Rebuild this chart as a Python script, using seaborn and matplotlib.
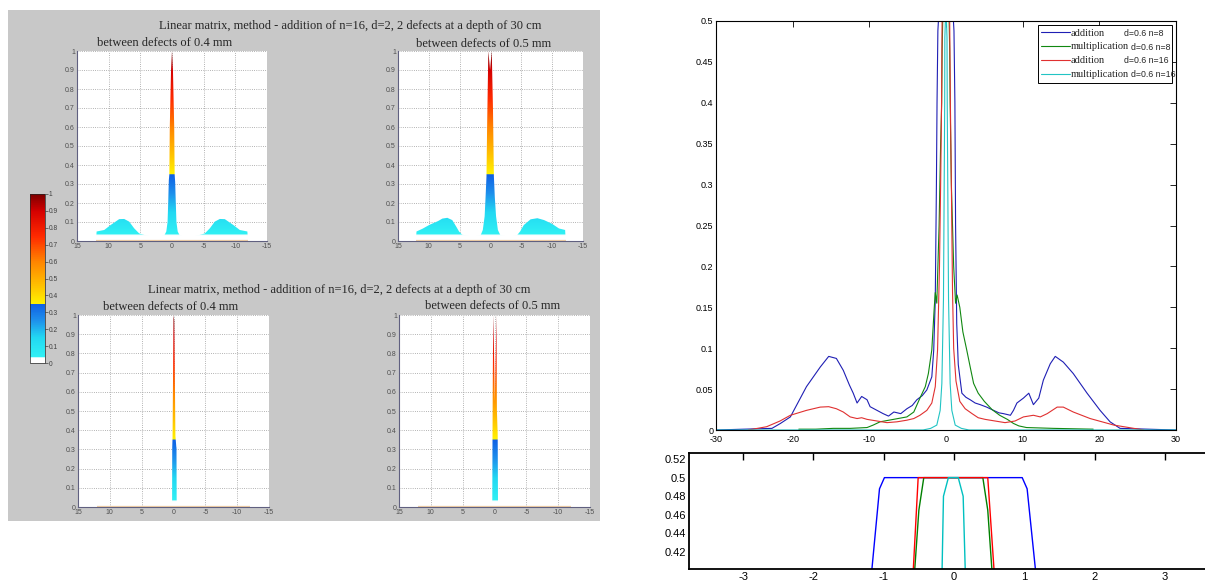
import numpy as np
import pandas as pd
import matplotlib
matplotlib.use("Agg")
import matplotlib.pyplot as plt
from matplotlib.colors import LinearSegmentedColormap
import seaborn as sns

# ---------------- data ----------------
# right panel: profiles of the four methods
x_add8 = [-30, -22.7, -21.6, -20.3, -18.2, -16.4, -15.3, -14.3, -13.4, -12.6, -12.1, -11.6, -11.0,
          -10.3, -9.9, -9.0, -8.2, -7.5, -6.8, -5.9, -5.1, -4.4, -3.8, -3.1, -2.5, -1.85, -1.6,
          -1.4, -1.25, -1.17, -1.06, -0.99, 0.97, 1.04, 1.16, 1.25, 1.4, 1.6, 2.07, 2.6, 3.15,
          3.8, 4.46, 5.3, 6.2, 6.9, 7.5, 8.4, 8.8, 9.25, 10.1, 10.8, 11.4, 12.1, 12.7, 13.6,
          14.25, 15.3, 16.6, 18.4, 20.1, 21.4, 22.7, 30]
y_add8 = [0, 0.002, 0.008, 0.016, 0.053, 0.077, 0.090, 0.0875, 0.073, 0.055, 0.045, 0.033, 0.041,
          0.037, 0.0285, 0.024, 0.020, 0.017, 0.022, 0.020, 0.026, 0.030, 0.037, 0.042, 0.049,
          0.065, 0.098, 0.159, 0.30, 0.40, 0.488, 0.5, 0.5, 0.488, 0.40, 0.25, 0.13, 0.08, 0.045,
          0.040, 0.037, 0.033, 0.031, 0.028, 0.024, 0.021, 0.020, 0.018, 0.024, 0.033, 0.039,
          0.045, 0.031, 0.039, 0.061, 0.081, 0.090, 0.083, 0.069, 0.045, 0.024, 0.010, 0.002, 0]

x_mul8 = [-19.2, -17.0, -14.7, -12.5, -10.3, -9.5, -8.6, -6.85, -5.1, -4.2, -3.4, -2.7, -2.3,
          -1.85, -1.55, -1.4, -1.2, -0.9, -0.7, -0.56, -0.5, -0.43, 0.41, 0.48, 0.54, 0.7, 1.0,
          1.25, 1.45, 1.8, 2.2, 2.7, 3.2, 3.6, 4.2, 5.0, 6.0, 7.0, 8.0, 8.8, 9.5, 10.5, 14.0, 19.2]
y_mul8 = [0.001, 0.001, 0.002, 0.002, 0.003, 0.006, 0.010, 0.013, 0.016, 0.022, 0.039, 0.053,
          0.069, 0.098, 0.147, 0.168, 0.155, 0.25, 0.35, 0.40, 0.465, 0.5, 0.5, 0.465, 0.40, 0.30,
          0.20, 0.155, 0.165, 0.15, 0.12, 0.098, 0.075, 0.057, 0.045, 0.035, 0.025, 0.018, 0.013,
          0.008, 0.005, 0.003, 0.002, 0.001]

x_add16 = [-25.8, -23.4, -21.65, -20.3, -18.2, -16.4, -15.3, -14.3, -13.4, -12.5, -11.6, -11.0,
           -10.3, -9.0, -7.7, -6.4, -5.1, -4.2, -3.4, -2.5, -1.85, -1.4, -1.1, -0.85, -0.7, -0.58,
           -0.51, 0.48, 0.57, 0.7, 0.85, 1.0, 1.3, 1.8, 2.5, 3.4, 4.2, 5.1, 6.4, 7.7, 9.0, 10.1,
           11.4, 12.3, 13.2, 14.5, 15.3, 16.6, 18.8, 21.9, 25.8]
y_add16 = [0, 0.004, 0.011, 0.018, 0.024, 0.028, 0.0285, 0.026, 0.022, 0.016, 0.014, 0.015,
           0.013, 0.011, 0.009, 0.010, 0.012, 0.014, 0.018, 0.024, 0.033, 0.053, 0.098, 0.20,
           0.30, 0.40, 0.5, 0.5, 0.40, 0.30, 0.17, 0.10, 0.06, 0.035, 0.026, 0.020, 0.015, 0.013,
           0.011, 0.009, 0.011, 0.016, 0.018, 0.016, 0.020, 0.028, 0.028, 0.022, 0.014, 0.006, 0]

x_mul16 = [-30, -3.0, -2.0, -1.2, -0.76, -0.54, -0.33, -0.17, -0.15, -0.08, 0.06, 0.13, 0.16,
           0.33, 0.54, 0.76, 1.2, 2.0, 3.0, 30]
y_mul16 = [0, 0, 0.002, 0.006, 0.024, 0.057, 0.16, 0.40, 0.48, 0.5, 0.5, 0.48, 0.40, 0.16, 0.057,
           0.024, 0.006, 0.002, 0, 0]

series_names = ["addition n=8", "multiplication n=8", "addition n=16", "multiplication n=16"]
legend_methods = ["addition", "multiplication", "addition", "multiplication"]
legend_params = ["d=0.6 n=8", "d=0.6 n=8", "d=0.6 n=16", "d=0.6 n=16"]

main_xticks = [-30, -20, -10, 0, 10, 20, 30]
main_yticks = [0, 0.05, 0.1, 0.15, 0.2, 0.25, 0.3, 0.35, 0.4, 0.45, 0.5]
main_ylabels = ["0", "0.05", "0.1", "0.15", "0.2", "0.25", "0.3", "0.35", "0.4", "0.45", "0.5"]
zoom_xticks = [-3, -2, -1, 0, 1, 2, 3]
zoom_yticks = [0.42, 0.44, 0.46, 0.48, 0.5, 0.52]
zoom_ylabels = ["0.42", "0.44", "0.46", "0.48", "0.5", "0.52"]

# left panel: surfaces seen from the side
x_tl = [-12, -11.9, -10.7, -9.65, -8.34, -7.55, -6.76, -5.98, -5.19, -4.4, -3.5, -2.0, -1.2, -0.9,
        -0.7, -0.6, -0.5, -0.42, -0.35, -0.15, 0, 0.15, 0.35, 0.42, 0.5, 0.6, 0.7, 0.9,
        1.2, 2.0, 3.5, 4.4, 5.19, 5.98, 6.76, 7.55, 8.34, 9.65, 10.7, 11.9, 12]
y_tl = [0, 0.05, 0.058, 0.085, 0.115, 0.116, 0.102, 0.067, 0.04, 0.032, 0.025, 0.022, 0.03, 0.05,
        0.1, 0.2, 0.31, 0.35, 0.6, 0.9, 1.0, 0.9, 0.6, 0.35, 0.32, 0.2, 0.1, 0.05,
        0.03, 0.022, 0.025, 0.032, 0.04, 0.067, 0.102, 0.116, 0.115, 0.085, 0.058, 0.05, 0]

x_tr = [-12.2, -12.1, -11.1, -10.0, -8.7, -7.6, -6.5, -5.4, -4.8, -4.3, -3.0, -1.6, -1.2, -0.9,
        -0.7, -0.55, -0.4, -0.2, 0.07, 0.35, 0.55, 0.65, 0.8, 0.95, 1.25, 1.6, 3.0, 4.6, 4.8, 5.1,
        5.6, 6.2, 7.0, 7.8, 8.5, 9.9, 11.0, 12.0, 12.1]
y_tr = [0, 0.058, 0.066, 0.09, 0.11, 0.12, 0.114, 0.084, 0.05, 0.03, 0.022, 0.03, 0.058, 0.13,
        0.23, 0.34, 0.7, 1.0, 0.9, 1.0, 0.6, 0.34, 0.23, 0.13, 0.058, 0.03, 0.022, 0.033, 0.04,
        0.05, 0.078, 0.11, 0.122, 0.118, 0.105, 0.085, 0.065, 0.05, 0]

x_bl = [-12, -0.5, -0.47, -0.45, -0.3, -0.22, -0.12, 0.0, 0.08, 0.15, 0.2, 0.22, 12]
y_bl = [0, 0, 0.31, 0.31, 0.37, 0.65, 0.97, 1.0, 0.65, 0.36, 0.31, 0, 0]

x_br = [-12, -0.55, -0.5, -0.38, -0.3, -0.2, -0.05, 0.1, 0.2, 0.28, 0.32, 0.35, 12]
y_br = [0, 0, 0.38, 0.5, 1.0, 0.8, 0.55, 0.85, 1.0, 0.6, 0.3, 0, 0]

small_xticks = [15, 10, 5, 0, -5, -10, -15]
small_xlabels = ["15", "10", "5", "0", "-5", "-10", "-15"]
small_yticks = [0, 0.1, 0.2, 0.3, 0.4, 0.5, 0.6, 0.7, 0.8, 0.9, 1]
small_ylabels = ["0", "0.1", "0.2", "0.3", "0.4", "0.5", "0.6", "0.7", "0.8", "0.9", "1"]

title_text = "Linear matrix, method - addition of n=16, d=2, 2 defects at a depth of 30 cm"
sub_04 = "between defects of 0.4 mm"
sub_05 = "between defects of 0.5 mm"

# ---------------- style ----------------
sns.set_theme(style="white")
plt.rcParams['font.family'] = ['Liberation Sans', 'DejaVu Sans']
serif = ['Liberation Serif', 'DejaVu Serif']

W, H = 1205, 586
fig = plt.figure(figsize=(W / 100, H / 100), dpi=100)
fig.patch.set_facecolor('white')


def px_axes(l, t, r, b):
    return fig.add_axes([l / W, 1 - b / H, (r - l) / W, (b - t) / H])


# grey window of the left figure (an empty axes used as backdrop)
bg = px_axes(8, 10, 600, 521)
bg.set_facecolor('#c8c8c8')
bg.set_xticks([])
bg.set_yticks([])
for s in bg.spines.values():
    s.set_visible(False)
bg.set_zorder(-5)

surf_cmap = LinearSegmentedColormap.from_list("surf", [
    (0.0, '#ffffff'), (0.03, '#ffffff'), (0.035, '#30f0f4'), (0.15, '#22d8f2'),
    (0.25, '#1e90ec'), (0.349, '#1060e4'), (0.351, '#fff200'), (0.45, '#ffc400'),
    (0.6, '#ff8400'), (0.75, '#ff2a00'), (0.9, '#d40000'), (1.0, '#7d0000')])


def surface(ax, x, y):
    poly = ax.fill_between(x, 0, y, facecolor='none', edgecolor='none')
    grad = np.linspace(0, 1, 256).reshape(-1, 1)
    img = ax.imshow(grad, cmap=surf_cmap, origin='lower', extent=[-15, 15, 0, 1],
                    aspect='auto', interpolation='bilinear', zorder=2)
    img.set_clip_path(poly.get_paths()[0], transform=ax.transData)
    ax.hlines(0, min(x), max(x), color='#e8c8a2', linewidth=1.6, zorder=3)
    ax.set_xlim(15, -15)
    ax.set_ylim(0, 1)
    ax.set_xticks(small_xticks)
    ax.set_xticklabels(small_xlabels)
    ax.set_yticks(small_yticks)
    ax.set_yticklabels(small_ylabels)
    ax.set_axisbelow(True)
    ax.grid(True, linestyle=':', color='#9a9a9a', linewidth=0.6)
    ax.tick_params(direction='in', length=2, width=0.5, labelsize=5, colors='#505050', pad=1.5)
    for s in ['top', 'right']:
        ax.spines[s].set_visible(False)
    for s in ['left', 'bottom']:
        ax.spines[s].set_color('#606080')
        ax.spines[s].set_linewidth(0.8)
    ax.set_facecolor('white')


ax_tl = px_axes(77, 51, 267, 241)
ax_tr = px_axes(398, 51, 583, 241)
ax_bl = px_axes(78, 315, 269, 507)
ax_br = px_axes(399, 315, 590, 507)
surface(ax_tl, x_tl, y_tl)
surface(ax_tr, x_tr, y_tr)
surface(ax_bl, x_bl, y_bl)
surface(ax_br, x_br, y_br)

fig.text(350 / W, 1 - 26 / H, title_text, ha='center', va='center', family=serif, fontsize=9)
fig.text(165 / W, 1 - 43 / H, sub_04, ha='center', va='center', family=serif, fontsize=9)
fig.text(484 / W, 1 - 44 / H, sub_05, ha='center', va='center', family=serif, fontsize=9)
fig.text(339 / W, 1 - 290 / H, title_text, ha='center', va='center', family=serif, fontsize=9)
fig.text(171 / W, 1 - 307 / H, sub_04, ha='center', va='center', family=serif, fontsize=9)
fig.text(493 / W, 1 - 306 / H, sub_05, ha='center', va='center', family=serif, fontsize=9)

cax = px_axes(30, 194, 45, 363)
sm = plt.cm.ScalarMappable(cmap=surf_cmap, norm=plt.Normalize(0, 1))
cb = fig.colorbar(sm, cax=cax, ticks=small_yticks)
cb.ax.set_yticklabels(small_ylabels)
cb.ax.tick_params(labelsize=4.8, length=2, width=0.5, pad=0.5, colors='#404040')
cb.outline.set_linewidth(0.5)

# ---------------- right panel ----------------
frames = []
for name, xs, ys in zip(series_names, [x_add8, x_mul8, x_add16, x_mul16],
                        [y_add8, y_mul8, y_add16, y_mul16]):
    frames.append(pd.DataFrame({'x': xs, 'y': ys, 'series': name}))
curves = pd.concat(frames, ignore_index=True)

main_colors = dict(zip(series_names, ['#1f1fb4', '#118811', '#e03030', '#22c4c4']))
zoom_colors = dict(zip(series_names, ['#0000ff', '#008000', '#ff0000', '#00c0c0']))

ax_main = px_axes(716, 21, 1176, 430)
sns.lineplot(data=curves, x='x', y='y', hue='series', hue_order=series_names, palette=main_colors,
             sort=False, estimator=None, linewidth=0.8, legend=False, ax=ax_main)
ax_main.set_xlim(-30, 30)
ax_main.set_ylim(0, 0.5)
ax_main.set_xticks(main_xticks)
ax_main.set_xticklabels([str(v) for v in main_xticks])
ax_main.set_yticks(main_yticks)
ax_main.set_yticklabels(main_ylabels)
ax_main.set_xlabel('')
ax_main.set_ylabel('')
ax_main.tick_params(direction='in', top=True, right=True, length=4, width=0.6,
                    labelsize=6.5, colors='black')
ax_main.tick_params(axis='x', pad=3.5)
ax_main.tick_params(axis='y', pad=2)
for s in ax_main.spines.values():
    s.set_color('black')
    s.set_linewidth(0.8)

leg = ax_main.legend(ax_main.get_lines()[:4], legend_methods, loc='upper left',
                     bbox_to_anchor=(0.700, 0.990, 0.291, 0.0), mode='expand',
                     prop={'family': serif, 'size': 7.5}, handlelength=2.8, handletextpad=0.0,
                     borderpad=0.3, labelspacing=0.45, borderaxespad=0.0, frameon=True,
                     fancybox=False, framealpha=1, edgecolor='black')
leg.get_frame().set_linewidth(0.7)
leg.set_zorder(5)
for txt, xa, ya in zip(legend_params, [0.887, 0.902, 0.887, 0.902], [0.970, 0.935, 0.903, 0.869]):
    ax_main.text(xa, ya, txt, transform=ax_main.transAxes, fontsize=6.3, va='center', ha='left',
                 zorder=10)

ax_zoom = px_axes(689, 453, 1212, 569)
sns.lineplot(data=curves, x='x', y='y', hue='series', hue_order=series_names, palette=zoom_colors,
             sort=False, estimator=None, linewidth=1.0, legend=False, ax=ax_zoom)
ax_zoom.set_xlim(-3.77, 3.67)
ax_zoom.set_ylim(0.4017, 0.5265)
ax_zoom.set_xticks(zoom_xticks)
ax_zoom.set_xticklabels([str(v) for v in zoom_xticks])
ax_zoom.set_yticks(zoom_yticks)
ax_zoom.set_yticklabels(zoom_ylabels)
ax_zoom.set_xlabel('')
ax_zoom.set_ylabel('')
ax_zoom.tick_params(direction='in', top=True, length=5, width=1.0, labelsize=8, pad=2,
                    colors='black')
for s in ax_zoom.spines.values():
    s.set_color('black')
    s.set_linewidth(1.3)

fig.savefig('out.png', dpi=100)
